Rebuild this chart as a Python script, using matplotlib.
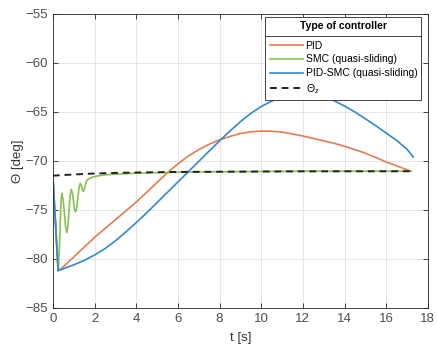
import matplotlib
matplotlib.use("Agg")
import matplotlib.pyplot as plt
from matplotlib.lines import Line2D

# PID response
t_pid = [0, 0.25, 0.5, 1, 1.5, 2, 2.5, 3, 3.5, 4, 4.5, 5, 5.5, 6, 6.5, 7, 7.5, 8, 8.5,
         9, 9.5, 10, 10.5, 11, 11.5, 12, 12.5, 13, 13.5, 14, 14.5, 15, 15.5, 16, 16.5,
         17, 17.2]
theta_pid = [-71.5, -81.2, -80.8, -79.8, -78.8, -77.8, -76.9, -76.0, -75.1, -74.2,
             -73.2, -72.2, -71.2, -70.3, -69.5, -68.85, -68.3, -67.85, -67.5, -67.2,
             -67.03, -66.95, -66.97, -67.05, -67.25, -67.45, -67.7, -67.95, -68.2,
             -68.5, -68.85, -69.2, -69.65, -70.1, -70.5, -70.9, -71.05]

# SMC (quasi-sliding) response
t_smc = [0, 0.26, 0.32, 0.37, 0.40, 0.43, 0.49, 0.55, 0.61, 0.67, 0.72, 0.775, 0.83,
         0.88, 0.935, 0.985, 1.04, 1.09, 1.145, 1.20, 1.255, 1.31, 1.35, 1.39, 1.43,
         1.47, 1.52, 1.6, 1.7, 1.9, 2.2, 2.6, 3, 4, 6, 8, 12, 17.2]
theta_smc = [-71.5, -81.1, -78.5, -75.2, -73.9, -73.3, -73.9, -75.3, -76.7, -77.3,
             -76.7, -75.1, -73.5, -72.9, -73.2, -74.05, -74.9, -75.2, -74.8, -73.75,
             -72.7, -72.3, -72.4, -72.7, -73.0, -73.1, -72.8, -72.1, -71.85, -71.65,
             -71.5, -71.4, -71.35, -71.25, -71.15, -71.1, -71.05, -71.05]

# PID-SMC (quasi-sliding) response
t_pidsmc = [0, 0.25, 0.5, 1, 1.5, 2, 2.5, 3, 3.5, 4, 4.5, 5, 5.5, 6, 6.5, 7, 7.5, 8,
            8.5, 9, 9.5, 10, 10.5, 11, 11.5, 12, 12.5, 13, 13.5, 14, 14.5, 15, 15.5,
            16, 16.5, 17, 17.3]
theta_pidsmc = [-71.5, -81.2, -81.0, -80.6, -80.15, -79.6, -78.95, -78.15, -77.25,
                -76.3, -75.3, -74.25, -73.2, -72.15, -71.1, -70.05, -69.0, -67.95,
                -66.95, -66.0, -65.15, -64.45, -63.9, -63.45, -63.2, -63.1, -63.2,
                -63.45, -63.85, -64.4, -65.0, -65.7, -66.4, -67.15, -67.9, -68.8, -69.6]

# reference angle
t_ref = [0, 1, 2, 3, 4, 6, 8, 12, 17.2]
theta_ref = [-71.5, -71.38, -71.28, -71.22, -71.18, -71.12, -71.1, -71.06, -71.05]

labels = ["PID", "SMC (quasi-sliding)", "PID-SMC (quasi-sliding)", r"$\mathregular{\Theta_z}$"]
colors = ["#E57B4E", "#8AC050", "#3189CE"]

plt.rcParams.update({
    "font.family": ["Liberation Sans", "DejaVu Sans"],
    "mathtext.fontset": "custom",
    "mathtext.rm": "Liberation Sans",
    "axes.edgecolor": "#262626",
    "xtick.color": "#262626",
    "ytick.color": "#262626",
})

fig = plt.figure(figsize=(4.37, 3.48), dpi=100)
ax = fig.add_axes([0.121, 0.115, 0.858, 0.845])

ax.plot(t_pid, theta_pid, color=colors[0], lw=1.2, label=labels[0])
ax.plot(t_smc, theta_smc, color=colors[1], lw=1.2, label=labels[1])
ax.plot(t_pidsmc, theta_pidsmc, color=colors[2], lw=1.2, label=labels[2])
ax.plot(t_ref, theta_ref, color="#222222", lw=1.4, ls=(0, (3.5, 2.5)), label=labels[3])

ax.set_xlim(0, 18)
ax.set_ylim(-85, -55)
ax.set_xticks(range(0, 19, 2))
ax.set_yticks(range(-85, -54, 5))
ax.grid(True, color="#e2e2e2", lw=0.6)
ax.set_axisbelow(True)
ax.tick_params(direction="in", top=True, right=True, length=3.5, width=0.6,
               labelsize=9.5, labelcolor="#4d4d4d")
for s in ax.spines.values():
    s.set_linewidth(0.6)

ax.set_xlabel("t [s]", fontsize=9.5, color="#333333", labelpad=5)
ax.set_ylabel("Θ [deg]", fontsize=9.5, color="#333333", labelpad=1)

leg = ax.legend(loc="upper right", bbox_to_anchor=(0.983, 0.99), fontsize=7.5,
                title="Type of controller", title_fontproperties={"weight": "bold", "size": 7.5},
                fancybox=False, edgecolor="#262626", framealpha=1,
                handlelength=3.2, handletextpad=0.25, labelspacing=0.36,
                borderpad=0.4, borderaxespad=0)
leg.get_frame().set_linewidth(0.6)
leg._legend_box.sep = 7

# separator under legend title
fig.canvas.draw()
inv = ax.transAxes.inverted()
bb = leg.get_window_extent().transformed(inv)
tb = leg.get_title().get_window_extent().transformed(inv)
t0 = leg.get_texts()[0].get_window_extent().transformed(inv)
y_sep = (tb.y0 + t0.y1) / 2
ax.add_line(Line2D([bb.x0, bb.x1], [y_sep, y_sep], transform=ax.transAxes,
                   color="#262626", lw=0.6, zorder=10))

fig.savefig("out.png", dpi=100)
